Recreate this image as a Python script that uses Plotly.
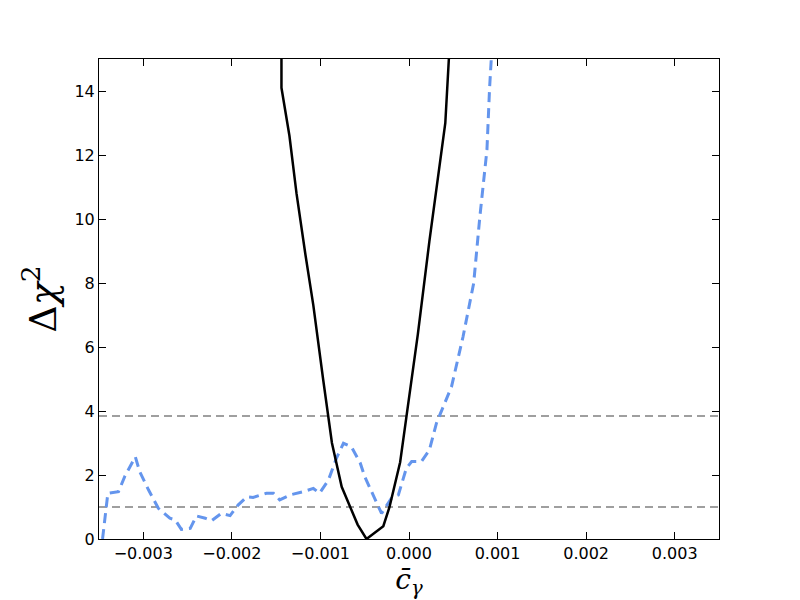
import plotly.graph_objects as go

# Black solid curve (Delta chi^2 vs c_gamma)
black_x = [-0.00144, -0.00144, -0.00135, -0.00127, -0.00117, -0.00108, -0.00097, -0.00087,
           -0.00076, -0.00065, -0.00058, -0.00048, -0.00029, -0.00022, -0.00010, -0.00003,
           0.00003, 0.00010, 0.00023, 0.00041, 0.00047]
black_y = [30.0, 14.1, 12.6, 10.8, 8.9, 7.3, 5.0, 3.0,
           1.63, 0.9, 0.45, 0.0, 0.4, 1.0, 2.4, 3.8,
           5.0, 6.4, 9.3, 13.0, 16.0]

# Blue dashed curve
blue_x = [-0.00346, -0.00340, -0.00328, -0.00321, -0.00309, -0.00304, -0.00294, -0.00283,
          -0.00270, -0.00264, -0.00257, -0.00247, -0.00240, -0.00230, -0.00223, -0.00212,
          -0.00202, -0.00193, -0.00183, -0.00176, -0.00161, -0.00153, -0.00146, -0.00134,
          -0.00119, -0.00108, -0.00101, -0.00091, -0.00082, -0.00074, -0.00065, -0.00055,
          -0.00050, -0.00040, -0.00031, -0.00020, -0.00012, -0.00003, 0.00003, 0.00014,
          0.00023, 0.00031, 0.00037, 0.00048, 0.00061, 0.00073, 0.00080, 0.00088,
          0.00091, 0.00093, 0.00095]
blue_y = [0.0, 1.43, 1.48, 1.95, 2.57, 2.10, 1.53, 0.96,
          0.65, 0.6, 0.3, 0.33, 0.72, 0.65, 0.57, 0.8,
          0.73, 1.06, 1.32, 1.3, 1.43, 1.43, 1.22, 1.38,
          1.48, 1.58, 1.43, 1.84, 2.52, 2.99, 2.88, 2.37,
          1.95, 1.32, 0.8, 1.27, 1.38, 2.21, 2.42, 2.42,
          2.78, 3.62, 4.03, 4.76, 6.32, 7.99, 10.07, 12.16,
          14.1, 15.0, 16.0]

# Reference levels
ref_levels = [3.84, 1.0]

x_ticks = [-0.003, -0.002, -0.001, 0.0, 0.001, 0.002, 0.003]
y_ticks = [0, 2, 4, 6, 8, 10, 12, 14]

fig = go.Figure()

for lvl in ref_levels:
    fig.add_trace(go.Scatter(
        x=[-0.0035, 0.0035], y=[lvl, lvl], mode="lines",
        line={"color": "gray", "width": 1.5, "dash": "8px,5px"},
        showlegend=False, hoverinfo="skip",
    ))

fig.add_trace(go.Scatter(
    x=blue_x, y=blue_y, mode="lines",
    line={"color": "#6495ED", "width": 3, "dash": "10px,6px"},
    showlegend=False,
))

fig.add_trace(go.Scatter(
    x=black_x, y=black_y, mode="lines",
    line={"color": "black", "width": 2.5},
    showlegend=False,
))

axis_common = dict(
    showgrid=False, zeroline=False, showline=True, linecolor="black", linewidth=1,
    mirror="ticks", ticks="inside", ticklen=7, tickcolor="black",
    tickfont={"family": "DejaVu Sans", "size": 16, "color": "black"},
)

# page body has an 8px margin, so the plot box is placed 8px up/left
fig.update_layout(
    width=800, height=600,
    paper_bgcolor="white", plot_bgcolor="white",
    margin={"l": 91, "r": 89, "t": 51, "b": 69},
    xaxis=dict(
        axis_common, range=[-0.0035, 0.0035], tickvals=x_ticks, tickformat=".3f",
        title={"text": "<i>c̄</i><sub><i>γ</i></sub>",
               "font": {"family": "DejaVu Serif", "size": 28, "color": "black"},
               "standoff": 0},
    ),
    yaxis=dict(
        axis_common, range=[0, 15], tickvals=y_ticks,
        title={"text": "Δ<i>χ</i><sup>2</sup>",
               "font": {"family": "DejaVu Serif", "size": 38, "color": "black"},
               "standoff": 6},
    ),
)

fig.write_html("out.html")
